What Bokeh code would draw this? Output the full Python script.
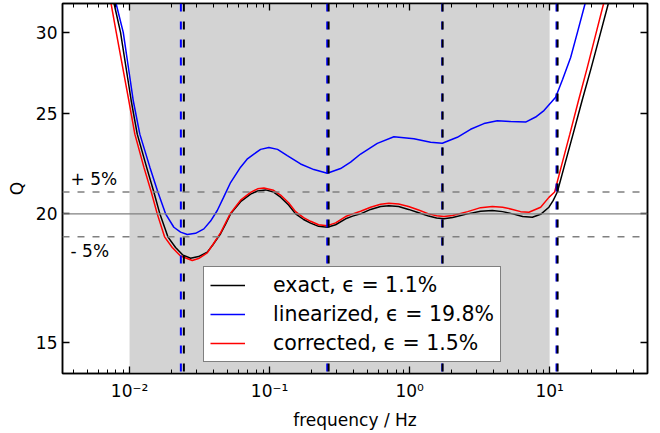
from bokeh.plotting import figure
from bokeh.models import FixedTicker, LogAxis, Span, BoxAnnotation, Legend, LegendItem, Label
from bokeh.embed import file_html
from bokeh.resources import INLINE

# Quality factor Q versus frequency for the three models
freq_exact = [0.00775, 0.00862, 0.01028, 0.01135, 0.01323, 0.01491, 0.01646, 0.01878, 0.02131,
              0.02391, 0.02727, 0.03111, 0.03589, 0.03981, 0.04467, 0.0485, 0.05266, 0.06208,
              0.07319, 0.08211, 0.09363, 0.1068, 0.1198, 0.1367, 0.1534, 0.175, 0.1963, 0.2239,
              0.2584, 0.2961, 0.3491, 0.3917, 0.4467, 0.5266, 0.6208, 0.7114, 0.8345, 0.9837,
              1.160, 1.367, 1.559, 1.758, 2.029, 2.596, 3.214, 3.897, 4.616, 5.442, 6.416, 7.523,
              8.625, 9.885, 10.59, 11.35, 12.68, 14.70, 17.04, 19.79, 22.95, 26.26]
q_exact = [32.0, 30.0, 25.75, 23.9, 22.2, 21.0, 20.0, 19.0, 18.55,
           18.25, 18.11, 18.18, 18.36, 18.7, 19.13, 19.55, 20.0, 20.55,
           20.9, 21.05, 21.1, 21.0, 20.76, 20.4, 20.0, 19.75, 19.59, 19.45,
           19.41, 19.52, 19.78, 19.9, 20.0, 20.2, 20.33, 20.37, 20.33, 20.2,
           20.05, 19.9, 19.82, 19.78, 19.84, 20.0, 20.12, 20.15, 20.1, 20.0, 19.88, 19.85,
           19.98, 20.3, 20.6, 21.0, 22.2, 23.9, 25.75, 27.7, 29.87, 32.0]

freq_lin = [0.00801, 0.009016, 0.01063, 0.01184, 0.01396, 0.01593, 0.01808, 0.02072, 0.02314,
            0.02584, 0.02961, 0.03395, 0.0379, 0.04231, 0.04692, 0.05266, 0.06208, 0.06907,
            0.07724, 0.08625, 0.09886, 0.1140, 0.1338, 0.1665, 0.2072, 0.2584, 0.3214, 0.379,
            0.4467, 0.588, 0.7724, 1.073, 1.4125, 1.712, 2.191, 2.727, 3.394, 4.231, 5.266,
            6.739, 7.943, 9.107, 11.04, 12.39, 14.13, 15.85, 17.93]
q_lin = [32.0, 30.0, 25.75, 23.9, 22.2, 21.0, 20.0, 19.41, 19.2,
         19.1, 19.15, 19.34, 19.68, 20.15, 20.75, 21.45, 22.2, 22.6,
         22.86, 23.1, 23.2, 23.1, 22.78, 22.36, 22.08, 21.9, 22.13, 22.45,
         22.86, 23.41, 23.76, 23.65, 23.47, 23.42, 23.73, 24.16, 24.47, 24.62, 24.58,
         24.55, 24.83, 25.19, 25.95, 27.02, 28.36, 30.05, 32.0]

freq_corr = [0.007377, 0.008035, 0.009886, 0.01091, 0.01265, 0.01429, 0.01577, 0.01778, 0.02018,
             0.02314, 0.02805, 0.03111, 0.03589, 0.03981, 0.04467, 0.0485, 0.05266, 0.06208,
             0.07319, 0.08211, 0.09105, 0.1068, 0.1198, 0.1367, 0.1534, 0.175, 0.1963, 0.2239,
             0.2584, 0.2961, 0.3491, 0.3917, 0.4467, 0.5266, 0.6208, 0.7114, 0.8345, 0.9837,
             1.160, 1.367, 1.559, 1.758, 2.029, 2.596, 3.214, 3.897, 4.616, 5.442, 6.209, 7.114,
             8.625, 9.885, 10.857, 12.08, 13.94, 16.06, 18.53, 21.35, 24.30]
q_corr = [32.0, 30.0, 25.75, 23.9, 22.2, 21.0, 20.0, 19.0, 18.55,
          18.2, 18.02, 18.1, 18.33, 18.72, 19.17, 19.6, 20.03, 20.62,
          20.98, 21.15, 21.19, 21.08, 20.86, 20.5, 20.1, 19.83, 19.67, 19.52,
          19.48, 19.6, 19.88, 20.0, 20.12, 20.3, 20.43, 20.48, 20.45, 20.33,
          20.17, 20.0, 19.92, 19.88, 19.93, 20.1, 20.28, 20.33, 20.3, 20.2, 20.1, 20.07,
          20.3, 20.75, 21.0, 22.2, 23.9, 25.75, 27.7, 29.87, 32.0]

# Marked frequencies (dashed verticals)
marks_exact = [0.02443, 0.264, 1.72, 11.4]
marks_lin = [0.02325, 0.258, 1.71, 11.2]

# Reference level and the +/- 5 % band
q_ref = 20.0
band_levels = [21.0, 19.0]
band_texts = ["+ 5%", "- 5%"]
band_text_q = [21.63, 18.42]
band_text_f = 0.00379

# Shaded frequency band
shade_lo, shade_hi = 0.01, 10.0

legend_labels = ["exact, ϵ = 1.1%", "linearized, ϵ = 19.8%", "corrected, ϵ = 1.5%"]

x_ticks = [0.01, 0.1, 1, 10]
x_tick_labels = ["10⁻²", "10⁻¹", "10⁰", "10¹"]
x_minor = [m * d for d in (0.001, 0.01, 0.1, 1, 10) for m in range(2, 10)]
y_ticks = [15, 20, 25, 30]
y_tick_labels = ["15", "20", "25", "30"]

FONT = "DejaVu Sans"

p = figure(width=660, height=433, x_axis_type="log", y_axis_type="log",
           x_range=(0.00332, 50.0), y_range=(14.0, 32.0),
           output_backend="svg", toolbar_location=None,
           min_border_left=62, min_border_right=13, min_border_top=3, min_border_bottom=60)
p.grid.visible = False
p.outline_line_color = "black"
p.outline_line_width = 1.5
p.background_fill_color = "white"
p.border_fill_color = "white"

xticker = FixedTicker(ticks=x_ticks, minor_ticks=x_minor)
yticker = FixedTicker(ticks=y_ticks, minor_ticks=[])

def style_axis(ax, ticker, labels=None):
    ax.ticker = ticker
    ax.axis_line_color = "black"
    ax.axis_line_width = 1.5
    ax.major_tick_in = 7
    ax.major_tick_out = 0
    ax.minor_tick_in = 4
    ax.minor_tick_out = 0
    ax.major_tick_line_color = "black"
    ax.major_tick_line_width = 1.3
    ax.minor_tick_line_color = "black"
    ax.minor_tick_line_width = 1
    if labels is None:
        # tick marks only, no visible labels on the mirrored axes
        ax.major_label_text_font_size = "1px"
        ax.major_label_text_alpha = 0
        ax.major_label_standoff = 0
    else:
        ax.major_label_overrides = labels
        ax.major_label_text_font = FONT
        ax.major_label_text_font_size = "17px"
        ax.major_label_text_color = "black"

style_axis(p.xaxis[0], xticker, {t: s for t, s in zip(x_ticks, x_tick_labels)})
style_axis(p.yaxis[0], yticker, {t: s for t, s in zip(y_ticks, y_tick_labels)})
p.xaxis[0].major_label_standoff = 7
p.yaxis[0].major_label_standoff = 5
p.xaxis[0].axis_label = "frequency / Hz"
p.yaxis[0].axis_label = "Q"
for ax in (p.xaxis[0], p.yaxis[0]):
    ax.axis_label_text_font = FONT
    ax.axis_label_text_font_size = "17px"
    ax.axis_label_text_font_style = "normal"
    ax.axis_label_text_color = "black"
p.xaxis[0].axis_label_standoff = 6
p.yaxis[0].axis_label_standoff = 6

top_ax = LogAxis()
style_axis(top_ax, xticker)
p.add_layout(top_ax, "above")
right_ax = LogAxis()
style_axis(right_ax, yticker)
p.add_layout(right_ax, "right")

# shaded band
p.add_layout(BoxAnnotation(left=shade_lo, right=shade_hi, fill_color="#d3d3d3", fill_alpha=1.0,
                           line_alpha=0, level="underlay"))

# reference level and +/- 5 % lines
p.add_layout(Span(location=q_ref, dimension="width", line_color="#808080", line_width=1.2))
for lvl in band_levels:
    p.add_layout(Span(location=lvl, dimension="width", line_color="#808080",
                      line_width=1.5, line_dash="7 8"))
for txt, qy in zip(band_texts, band_text_q):
    p.add_layout(Label(x=band_text_f, y=qy, text=txt, text_font=FONT, text_font_size="17px",
                       text_baseline="middle", text_align="left", text_color="black"))

r_exact = p.line(freq_exact, q_exact, line_color="black", line_width=1.5)
r_lin = p.line(freq_lin, q_lin, line_color="#0000ff", line_width=1.5)
r_corr = p.line(freq_corr, q_corr, line_color="#ff0000", line_width=1.5)

for f in marks_lin:
    p.add_layout(Span(location=f, dimension="height", line_color="#0000ff",
                      line_width=2, line_dash="8 10"))
for f in marks_exact:
    p.add_layout(Span(location=f, dimension="height", line_color="black",
                      line_width=2, line_dash="8 10"))

legend = Legend(items=[LegendItem(label=legend_labels[0], renderers=[r_exact]),
                       LegendItem(label=legend_labels[1], renderers=[r_lin]),
                       LegendItem(label=legend_labels[2], renderers=[r_corr])],
                location=(141, 11))
legend.label_text_font = FONT
legend.label_text_font_size = "20.5px"
legend.label_text_color = "black"
legend.padding = 6
legend.spacing = 5
legend.margin = 0
legend.glyph_width = 35
legend.glyph_height = 24
legend.label_height = 24
legend.label_standoff = 28
legend.border_line_color = "black"
legend.border_line_width = 1.5
legend.background_fill_color = "white"
legend.background_fill_alpha = 1.0
p.add_layout(legend, "center")

open("out.html", "w").write(file_html(p, INLINE))
